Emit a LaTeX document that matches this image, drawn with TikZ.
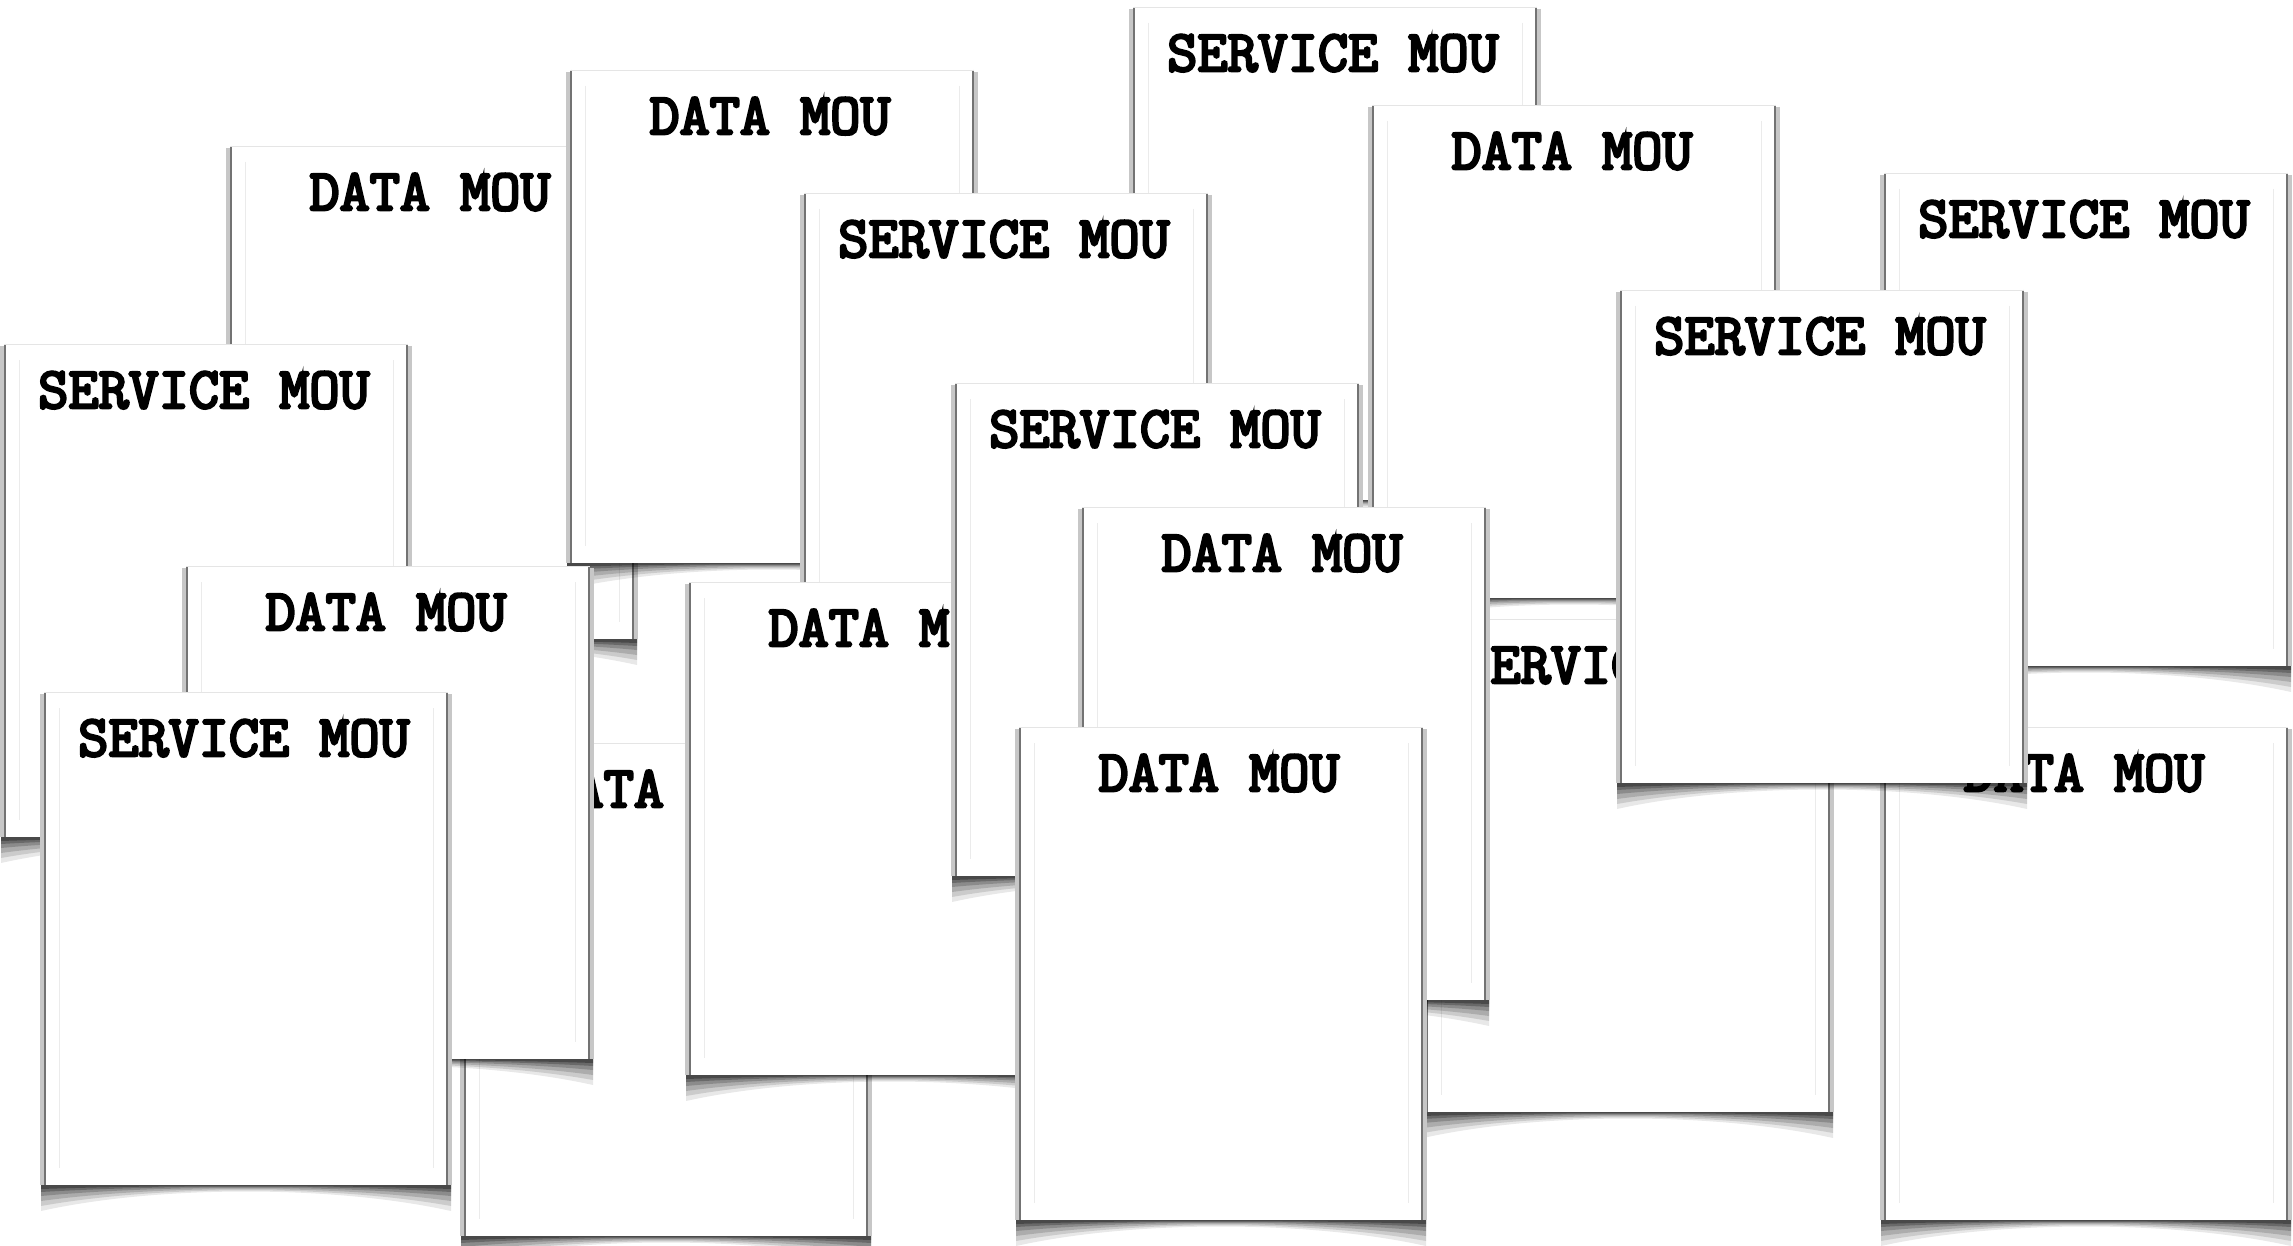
\documentclass[tikz,border=0pt]{standalone}
\usepackage{fontspec}
\newfontfamily\courfont{Latin Modern Mono}[FakeBold=4.5]
\tikzset{
  x=1pt, y=-1pt,
  sheetbox/.style={anchor=north west, minimum width=404pt, minimum height=493pt,
    inner sep=0pt, outer sep=0pt, fill=white, draw=none},
  sheettext/.style={anchor=base, inner sep=0pt,
    font=\fontsize{58.5}{66}\selectfont\courfont, text=black},
  sheetedge/.style={draw=black!55, line width=1.6pt},
  sheetglow/.style={draw=black!22, line width=5pt},
  sheettop/.style={draw=black!10, line width=1pt},
  sheetinner/.style={draw=black!8, line width=1pt},
}
\newcommand\papersheet[4]{%
  \begin{scope}[shift={(#2,#3)}]
    \foreach \d/\o in {26/0.09,21/0.12,16/0.15,11/0.19,7/0.24,4/0.3}{
      \fill[black, opacity=\o] (-3,489) -- (407,489) -- (407,493+\d)
        .. controls (290,493) and (114,493) .. (-3,493+\d) -- cycle;
    }
    \draw[sheetglow] (-1.5,2) -- (-1.5,493);
    \draw[sheetglow] (405.5,2) -- (405.5,493);
    \node[sheetbox] (#1) at (0,0) {};
    \draw[sheetedge] (0.8,0) -- (0.8,493);
    \draw[sheetedge] (403.2,0) -- (403.2,493);
    \draw[sheettop] (0,0.5) -- (404,0.5);
    \draw[sheetinner] (15,16) -- (15,476);
    \draw[sheetinner] (389,16) -- (389,476);
    \node[sheettext] (#1-t) at (200,64) {#4};
  \end{scope}}
\begin{document}
\begin{tikzpicture}
\useasboundingbox[fill=white] (0,0) rectangle (2293,1246);
\papersheet{s1}{1133}{7}{SERVICE MOU}
\papersheet{s2}{230}{146}{DATA MOU}
\papersheet{s3}{570}{70}{DATA MOU}
\papersheet{s4}{804}{193}{SERVICE MOU}
\papersheet{s5}{1372}{105}{DATA MOU}
\papersheet{s6}{1884}{173}{SERVICE MOU}
\papersheet{s16}{1884}{727}{DATA MOU}
\papersheet{s15}{1426}{619}{SERVICE MOU}
\papersheet{s11}{464}{743}{DATA MOU}
\papersheet{s12}{689}{582}{DATA MOU}
\papersheet{s13}{955}{383}{SERVICE MOU}
\papersheet{s14}{1082}{507}{DATA MOU}
\papersheet{s17}{1019}{727}{DATA MOU}
\papersheet{s7}{1620}{290}{SERVICE MOU}
\papersheet{s8}{4}{344}{SERVICE MOU}
\papersheet{s9}{186}{566}{DATA MOU}
\papersheet{s10}{44}{692}{SERVICE MOU}
\end{tikzpicture}
\end{document}
